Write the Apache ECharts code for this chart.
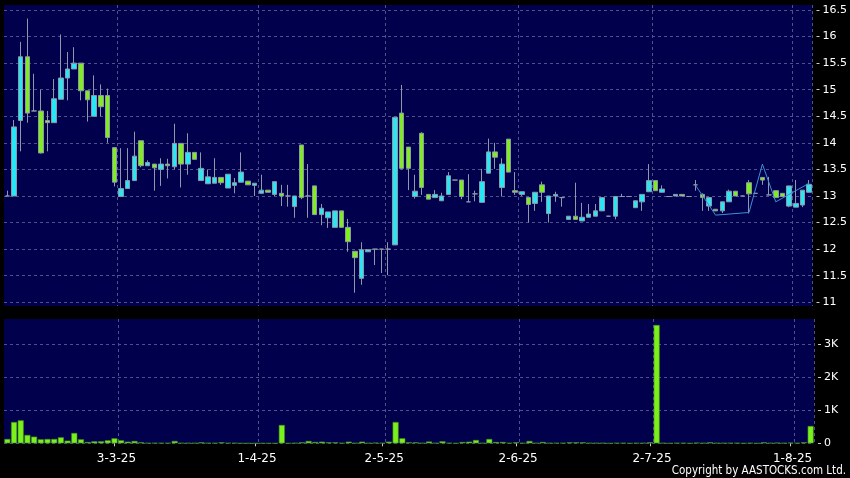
<!DOCTYPE html>
<html><head><meta charset="utf-8">
<script src="https://cdn.jsdelivr.net/npm/echarts@6/dist/echarts.min.js"></script>
<style>html,body{margin:0;padding:0;background:#000;}#c{width:850px;height:478px;}</style>
</head><body><div id="c"></div>
<script>
const dates = ['7-2-25','10-2-25','11-2-25','12-2-25','13-2-25','14-2-25','17-2-25','18-2-25','19-2-25','20-2-25',
'21-2-25','24-2-25','25-2-25','26-2-25','27-2-25','28-2-25','3-3-25','4-3-25','5-3-25','6-3-25',
'7-3-25','10-3-25','11-3-25','12-3-25','13-3-25','14-3-25','17-3-25','18-3-25','19-3-25','20-3-25',
'21-3-25','24-3-25','25-3-25','26-3-25','27-3-25','28-3-25','31-3-25','1-4-25','2-4-25','3-4-25',
'7-4-25','8-4-25','9-4-25','10-4-25','11-4-25','14-4-25','15-4-25','16-4-25','17-4-25','22-4-25',
'23-4-25','24-4-25','25-4-25','28-4-25','29-4-25','30-4-25','2-5-25','6-5-25','7-5-25','8-5-25',
'9-5-25','12-5-25','13-5-25','14-5-25','15-5-25','16-5-25','19-5-25','20-5-25','21-5-25','22-5-25',
'23-5-25','26-5-25','27-5-25','28-5-25','29-5-25','30-5-25','2-6-25','3-6-25','4-6-25','5-6-25',
'6-6-25','9-6-25','10-6-25','11-6-25','12-6-25','16-6-25','17-6-25','18-6-25','19-6-25','20-6-25',
'23-6-25','24-6-25','25-6-25','26-6-25','27-6-25','30-6-25','2-7-25','3-7-25','4-7-25','7-7-25',
'8-7-25','9-7-25','10-7-25','11-7-25','14-7-25','15-7-25','16-7-25','17-7-25','21-7-25','22-7-25',
'23-7-25','24-7-25','25-7-25','28-7-25','29-7-25','30-7-25','31-7-25','1-8-25','4-8-25','5-8-25',
'6-8-25'];
const open = [13.0,13.0,14.42,15.62,14.6,14.6,14.42,14.38,14.82,15.22,
15.39,15.5,14.98,14.5,14.89,14.89,13.91,12.99,13.14,13.29,
14.04,13.57,13.6,13.5,13.6,13.55,13.99,13.6,13.82,13.29,
13.23,13.24,13.35,13.15,13.2,13.26,13.28,13.2,13.05,13.11,
13.03,13.05,13.0,12.8,13.96,13.0,13.19,12.65,12.59,12.41,
12.72,12.41,11.96,11.45,11.95,12.0,12.0,12.0,12.08,14.56,
13.92,12.99,14.18,13.03,12.97,12.91,13.03,13.3,13.3,12.89,
13.04,12.88,13.43,13.83,13.16,14.07,13.1,13.03,12.97,12.86,
13.21,12.67,13.0,12.97,12.56,12.62,12.53,12.6,12.62,12.72,
12.62,12.62,12.99,12.99,12.78,12.89,13.08,13.29,13.07,12.99,
13.0,13.03,12.99,13.21,13.03,12.81,12.75,12.72,12.89,13.09,
13.0,13.25,13.05,13.35,13.02,13.1,13.05,12.81,12.79,12.83,
13.07];
const close = [13.0,14.3,15.62,14.56,14.6,13.81,14.38,14.83,15.22,15.39,
15.5,14.98,14.81,14.89,14.68,14.1,13.26,13.14,13.29,13.75,
13.57,13.63,13.53,13.6,13.57,13.99,13.6,13.82,13.69,13.52,
13.36,13.35,13.25,13.41,13.25,13.45,13.21,13.24,13.11,13.07,
13.27,13.0,13.0,13.0,12.97,13.0,12.65,12.77,12.7,12.72,
12.41,12.14,11.84,11.99,11.99,12.0,12.0,12.0,14.48,13.52,
13.52,13.09,13.16,12.94,13.03,13.0,13.38,13.3,12.99,12.89,
13.04,13.27,13.83,13.73,13.6,13.45,13.07,13.08,12.84,13.07,
13.07,13.0,13.03,12.97,12.62,12.56,12.6,12.66,12.72,12.97,
12.62,12.99,12.99,12.99,12.91,13.03,13.29,13.1,13.13,12.99,
13.03,13.0,12.99,13.21,12.97,12.97,12.72,12.89,13.09,13.0,
13.0,13.04,13.05,13.3,13.02,12.97,12.99,13.19,12.86,13.11,
13.22];
const low = [13.0,13.0,13.84,14.38,14.6,13.8,13.84,14.38,14.82,14.8,
15.39,14.8,14.4,14.5,14.5,14.0,13.18,12.99,13.14,13.29,
13.54,13.57,13.1,13.19,13.33,13.5,13.16,13.4,13.69,13.29,
13.23,13.24,13.21,13.15,13.05,13.26,13.21,13.0,13.05,13.07,
13.0,12.81,12.8,12.59,12.94,12.59,12.65,12.45,12.4,12.41,
12.41,11.95,11.18,11.33,11.95,11.7,11.55,11.51,12.08,13.5,
13.11,12.95,13.02,12.94,12.97,12.91,13.03,13.3,12.94,12.89,
12.9,12.88,13.43,13.51,12.99,13.45,13.02,13.0,12.5,12.72,
12.89,12.5,12.89,12.8,12.55,12.56,12.53,12.6,12.62,12.72,
12.62,12.56,12.99,12.99,12.78,12.72,13.08,13.1,13.07,12.99,
13.0,13.0,12.99,13.1,12.72,12.72,12.72,12.68,12.89,13.0,
13.0,12.67,13.05,13.21,13.02,12.97,12.99,12.79,12.79,12.79,
13.07];
const high = [13.1,14.43,15.9,16.34,15.3,15.0,14.6,15.2,16.04,15.71,
15.8,15.5,14.98,15.27,15.1,15.02,13.91,13.9,13.9,14.21,
14.04,13.67,13.6,13.71,13.7,14.36,13.99,14.18,13.82,13.82,
13.5,13.71,13.35,13.41,13.34,13.82,13.28,13.24,13.4,13.11,
13.27,13.21,13.21,13.0,13.96,13.6,13.19,12.85,12.7,12.72,
12.72,12.57,11.96,12.13,12.0,12.0,12.0,12.13,14.48,15.09,
13.92,13.4,14.2,13.03,13.11,13.06,13.45,13.3,13.3,13.41,
13.1,13.51,14.08,14.0,13.71,14.07,13.45,13.08,12.97,13.07,
13.27,13.0,13.08,12.98,12.62,13.25,12.87,12.85,12.85,12.97,
12.62,12.99,13.04,12.99,12.91,13.03,13.6,13.29,13.2,12.99,
13.03,13.03,12.99,13.3,13.05,12.97,12.75,12.89,13.12,13.09,
13.0,13.3,13.05,13.35,13.36,13.1,13.05,13.19,13.3,13.11,
13.3];
const volume = [131,646,697,253,202,121,131,131,182,81,
313,121,40,61,61,91,152,91,50,71,
30,10,10,10,10,71,10,10,10,30,
10,10,30,10,10,0,0,0,0,0,
0,556,0,10,30,71,40,50,30,30,
10,50,10,50,10,20,10,50,646,152,
30,30,10,55,10,61,10,0,40,50,
101,10,131,40,40,10,30,10,71,10,
40,10,10,10,30,30,30,10,10,10,
0,10,10,0,10,10,30,3586,10,0,
10,10,0,20,10,30,10,10,10,10,
0,10,0,30,10,20,10,20,10,30,
525];
const lineDates = ['11-7-25','16-7-25','24-7-25','28-7-25','30-7-25','6-8-25'];
const lineValues = [13.2,12.64,12.69,13.6,12.89,13.24];
const priceTicks = [11,11.5,12,12.5,13,13.5,14,14.5,15,15.5,16,16.5];
const volumeTicks = [0,1000,2000,3000];
const dateTicks = ['3-3-25','1-4-25','2-5-25','2-6-25','2-7-25','1-8-25'];

const isTick = i => dateTicks.indexOf(dates[i]) >= 0;
const afterTick = i => i > 0 && isTick(i - 1);
const gridLine = {show: true, interval: afterTick, lineStyle: {color: '#50508a', type: [3, 3], width: 1}};
const hLine = {show: true, lineStyle: {color: '#50508a', type: [3, 3], width: 1}};
const labelFont = {color: '#ffffff', fontFamily: 'DejaVu Sans', fontSize: 11};

const chart = echarts.init(document.getElementById('c'), null, {renderer: 'canvas'});
chart.setOption({
  animation: false,
  backgroundColor: '#000000',
  grid: [
    {left: 4, right: 36, top: 5, height: 301, show: true, backgroundColor: '#00004d', borderWidth: 0},
    {left: 4, right: 36, top: 319, height: 124.3, show: true, backgroundColor: '#00004d', borderWidth: 0}
  ],
  xAxis: [
    {type: 'category', gridIndex: 0, data: dates, boundaryGap: true,
     axisLine: {show: false}, axisTick: {show: false}, axisLabel: {show: false}, splitLine: gridLine},
    {type: 'category', gridIndex: 1, data: dates, boundaryGap: true, offset: 3,
     axisLine: {show: false},
     axisTick: {show: true, alignWithLabel: true, interval: isTick, length: 3, lineStyle: {color: '#cccccc'}},
     axisLabel: {show: true, interval: isTick, margin: 7, color: '#ffffff', fontFamily: 'DejaVu Sans', fontSize: 12,
       padding: [0, 0, 0, 4]},
     splitLine: gridLine}
  ],
  yAxis: [
    {type: 'value', gridIndex: 0, position: 'right', min: 10.93, max: 16.594, offset: 4,
     axisLine: {show: false},
     axisTick: {show: true, length: 3, customValues: priceTicks, lineStyle: {color: '#cccccc'}},
     axisLabel: Object.assign({margin: 6, customValues: priceTicks}, labelFont),
     splitLine: hLine},
    {type: 'value', gridIndex: 1, position: 'right', min: 0, max: 3767, offset: 4,
     axisLine: {show: false},
     axisTick: {show: true, length: 3, customValues: volumeTicks, lineStyle: {color: '#cccccc'}},
     axisLabel: Object.assign({margin: 6, customValues: volumeTicks,
       formatter: v => v === 0 ? '0' : (v / 1000) + 'K'}, labelFont),
     splitLine: hLine}
  ],
  series: [
    {type: 'candlestick', xAxisIndex: 0, yAxisIndex: 0, barWidth: 5,
     data: dates.map((d, i) => [open[i], close[i], low[i], high[i]]),
     itemStyle: {color: '#29e6f5', color0: '#7fee1d', borderColor: '#8e98a8', borderColor0: '#8e98a8',
       borderColorDoji: '#8e98a8', borderWidth: 1}},
    {type: 'line', xAxisIndex: 0, yAxisIndex: 0, symbol: 'none',
     data: lineDates.map((d, i) => [d, lineValues[i]]),
     lineStyle: {color: '#3d8fd6', width: 1}, z: 3},
    {type: 'bar', xAxisIndex: 1, yAxisIndex: 1, barWidth: 6, data: volume,
     itemStyle: {color: '#7cf01c', borderColor: '#3f8f14', borderWidth: 0.6}}
  ],
  graphic: [
    {type: 'text', right: 4, bottom: 1,
     style: {text: 'Copyright by AASTOCKS.com Ltd.', fill: '#ffffff',
       font: '11.5px "DejaVu Sans Condensed", "DejaVu Sans"'}}
  ]
});
</script></body></html>
